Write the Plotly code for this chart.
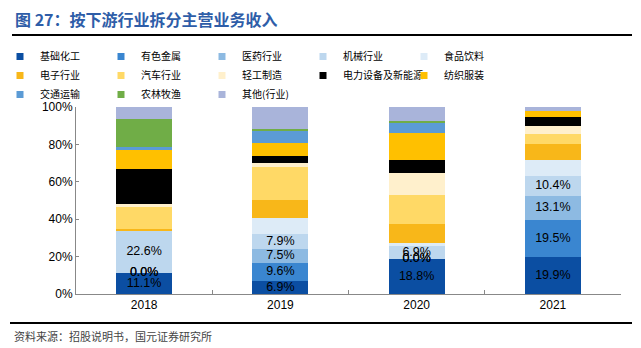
import plotly.graph_objects as go
import numpy as np

years = ["2018", "2019", "2020", "2021"]
industries = ["基础化工", "有色金属", "医药行业", "机械行业", "食品饮料",
              "电子行业", "汽车行业", "轻工制造", "电力设备及新能源", "纺织服装",
              "交通运输", "农林牧渔", "其他(行业)"]

v_jichu = [11.1, 6.9, 18.8, 19.9]
v_youse = [0.0, 9.6, 0.0, 19.5]
v_yiyao = [0.0, 7.5, 0.0, 13.1]
v_jixie = [22.6, 7.9, 6.9, 10.4]
v_shipin = [0.0, 8.5, 1.5, 8.9]
v_dianzi = [1.2, 9.8, 10.5, 8.4]
v_qiche = [12.1, 17.8, 15.3, 5.3]
v_qinggong = [1.0, 2.0, 11.6, 4.6]
v_dianli = [18.6, 4.0, 6.8, 4.5]
v_fangzhi = [10.3, 6.8, 14.9, 3.2]
v_jiaotong = [1.8, 6.6, 5.3, 0.0]
v_nonglin = [15.1, 1.0, 0.9, 0.0]
v_qita = [6.2, 11.6, 7.5, 2.2]

y_ticks = [0, 20, 40, 60, 80, 100]
y_ticktext = ["0%", "20%", "40%", "60%", "80%", "100%"]

series = [v_jichu, v_youse, v_yiyao, v_jixie, v_shipin, v_dianzi, v_qiche,
          v_qinggong, v_dianli, v_fangzhi, v_jiaotong, v_nonglin, v_qita]

colors = ["#0B4EA2", "#3A86D0", "#8DBAE2", "#BDD7EE", "#DDEBF7",
          "#F8B719", "#FFD966", "#FFF0CC", "#000000", "#FFC000",
          "#5B9BD5", "#70AD47", "#A9B4DA"]

labeled = 4  # first four series carry value labels

fig = go.Figure()
for name, vals, col in zip(industries, series, colors):
    fig.add_trace(go.Bar(x=years, y=vals, name=name, marker_color=col,
                         marker_line_width=0, showlegend=False,
                         legendgroup=name, hoverinfo="name+y"))
# legend entries (small square swatches)
for name, col in zip(industries, colors):
    fig.add_trace(go.Scatter(x=[None], y=[None], mode="markers", name=name,
                             legendgroup=name,
                             marker=dict(symbol="square", size=7, color=col)))

# value labels for first series
arr = np.array(series)
cum = np.cumsum(arr, axis=0)
for i in range(labeled):
    base = cum[i] - arr[i]
    mids = base + arr[i] / 2
    fig.add_trace(go.Scatter(x=years, y=mids, mode="text",
                             text=[f"{v:.1f}%" for v in arr[i]],
                             textfont=dict(family="Arial, Liberation Sans", size=12.5, color="#000"),
                             showlegend=False, hoverinfo="skip"))

L, R, T, B = 76, 20, 107, 54
W, H = 641, 348
pw, ph = W - L - R, H - T - B

def px(x):
    return (x - L) / pw

def py(y):
    return (H - B - y) / ph

fig.update_layout(
    width=W, height=H, barmode="stack", bargap=0.59,
    margin=dict(l=L, r=R, t=T, b=B, autoexpand=False),
    plot_bgcolor="white", paper_bgcolor="white",
    font=dict(family="Arial, Liberation Sans, Noto Sans CJK SC", size=12, color="#000"),
    xaxis=dict(type="category", showline=True, linecolor="#888", linewidth=1,
               ticks="inside", ticklen=4, tickcolor="#888", tickson="boundaries",
               tickfont=dict(size=12, color="#000"), showgrid=False),
    yaxis=dict(range=[0, 100], tickmode="array", tickvals=y_ticks, ticktext=y_ticktext,
               showline=True, linecolor="#888", linewidth=1, ticks="inside",
               ticklen=3, tickcolor="#888", showgrid=False, zeroline=False,
               tickfont=dict(size=12, color="#000")),
    legend=dict(orientation="h", xref="container", yref="container",
                x=0, xanchor="left", y=1 - 42 / H, yanchor="top",
                entrywidth=56, entrywidthmode="pixels", traceorder="normal",
                font=dict(family="Noto Sans CJK SC", size=10, color="#000"),
                itemwidth=30, bgcolor="rgba(0,0,0,0)"),
    showlegend=True,
)

fig.add_annotation(text="<b>图 27：按下游行业拆分主营业务收入</b>", xref="paper", yref="paper",
                   x=px(13), y=py(19), xanchor="left", yanchor="middle", showarrow=False,
                   font=dict(family="Noto Sans CJK SC", size=16, color="#2E5DA8"))
fig.add_annotation(text="资料来源：招股说明书，国元证券研究所", xref="paper", yref="paper",
                   x=px(12), y=py(336), xanchor="left", yanchor="middle", showarrow=False,
                   font=dict(family="Noto Sans CJK SC", size=11, color="#444"))
fig.add_shape(type="line", xref="paper", yref="paper", x0=px(12), x1=px(632),
              y0=py(35), y1=py(35), line=dict(color="#000", width=2))
fig.add_shape(type="line", xref="paper", yref="paper", x0=px(10), x1=px(632),
              y0=py(323), y1=py(323), line=dict(color="#000", width=2))

fig.write_html("out.html")
